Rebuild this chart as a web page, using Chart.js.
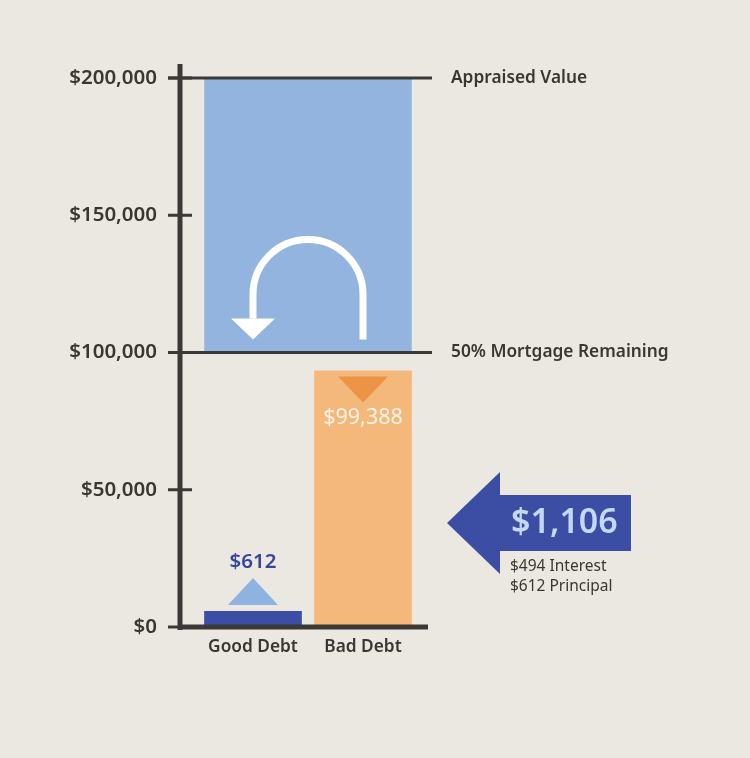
<!DOCTYPE html>
<html>
<head>
<meta charset="utf-8">
<script src="https://cdn.jsdelivr.net/npm/chart.js@4"></script>
<style>
  html, body { margin: 0; padding: 0; background: #ebe8e1; }
  #wrap { width: 750px; height: 758px; }
</style>
</head>
<body>
<div id="wrap"><canvas id="c" width="750" height="758"></canvas></div>
<script>
// ---- data ----
const categories = ['Good Debt', 'Bad Debt'];
const debtBarValues = [5800, 93400];          // bar heights as drawn
const debtValueLabels = ['$612', '$99,388'];
const appraisedRange = [100000, 200000];      // blue block: 50% remaining .. appraised value
const yTicks = [0, 50000, 100000, 150000, 200000];
const refLines = [
  { value: 200000, label: 'Appraised Value' },
  { value: 100000, label: '50% Mortgage Remaining' }
];
const paymentTotal = '$1,106';
const paymentParts = ['$494 Interest', '$612 Principal'];

const FONT = '"Noto Sans", sans-serif';
const DARK = '#3b3835';

const decor = {
  id: 'decor',
  afterDatasetsDraw(chart) {
    const ctx = chart.ctx;
    const y = chart.scales.y;
    const ca = chart.chartArea;
    const axisX = ca.left - 18;
    const y0 = y.getPixelForValue(0);
    const debtMeta = chart.getDatasetMeta(1);
    const good = debtMeta.data[0], bad = debtMeta.data[1];
    ctx.save();

    // reference lines
    ctx.strokeStyle = DARK;
    ctx.lineWidth = 3;
    refLines.forEach(r => {
      const py = y.getPixelForValue(r.value);
      ctx.beginPath(); ctx.moveTo(axisX - 12, py); ctx.lineTo(ca.right + 14, py); ctx.stroke();
      ctx.fillStyle = '#3a3733';
      ctx.font = '600 17.3px ' + FONT;
      ctx.textAlign = 'left'; ctx.textBaseline = 'middle';
      ctx.fillText(r.label, ca.right + 33, py);
    });
    // tick marks
    yTicks.forEach(v => {
      const py = y.getPixelForValue(v);
      ctx.beginPath(); ctx.moveTo(axisX - 12, py); ctx.lineTo(axisX + 12, py); ctx.stroke();
    });
    // vertical axis
    ctx.lineWidth = 5;
    ctx.beginPath(); ctx.moveTo(axisX, y.getPixelForValue(200000) - 14); ctx.lineTo(axisX, y0 + 3); ctx.stroke();
    // bottom axis
    ctx.beginPath(); ctx.moveTo(axisX, y0); ctx.lineTo(ca.right + 10, y0); ctx.stroke();

    // U-turn arrow inside blue block
    const blue = chart.getDatasetMeta(0).data[0];
    const cx = blue.x;
    const yb = y.getPixelForValue(100000);
    const r = 55;
    const cy = yb - 58;
    ctx.strokeStyle = '#ffffff';
    ctx.lineWidth = 7;
    ctx.lineCap = 'butt';
    ctx.beginPath();
    ctx.moveTo(cx + r, yb - 13);
    ctx.lineTo(cx + r, cy);
    ctx.arc(cx, cy, r, 0, Math.PI, true);
    ctx.lineTo(cx - r, yb - 34);
    ctx.stroke();
    ctx.fillStyle = '#ffffff';
    ctx.beginPath();
    ctx.moveTo(cx - r - 22, yb - 34);
    ctx.lineTo(cx - r + 22, yb - 34);
    ctx.lineTo(cx - r, yb - 13);
    ctx.closePath(); ctx.fill();

    // Bad debt down triangle + label
    ctx.fillStyle = '#ec9446';
    ctx.beginPath();
    ctx.moveTo(bad.x - 25, bad.y + 6);
    ctx.lineTo(bad.x + 25, bad.y + 6);
    ctx.lineTo(bad.x, bad.y + 32);
    ctx.closePath(); ctx.fill();
    ctx.fillStyle = '#fdf3e6';
    ctx.font = '400 21.5px ' + FONT;
    ctx.textAlign = 'center'; ctx.textBaseline = 'middle';
    ctx.fillText(debtValueLabels[1], bad.x, bad.y + 47);

    // Good debt up triangle + label
    ctx.fillStyle = '#8fb3e0';
    ctx.beginPath();
    ctx.moveTo(good.x - 25, good.y - 6);
    ctx.lineTo(good.x + 25, good.y - 6);
    ctx.lineTo(good.x, good.y - 33);
    ctx.closePath(); ctx.fill();
    ctx.fillStyle = '#34479b';
    ctx.font = '600 20.5px ' + FONT;
    ctx.fillText(debtValueLabels[0], good.x, good.y - 49);

    // Big payment arrow
    const ay = y.getPixelForValue(37900);
    const tipX = ca.right + 29;
    ctx.fillStyle = '#3c4ea3';
    ctx.beginPath();
    ctx.moveTo(tipX, ay);
    ctx.lineTo(tipX + 53, ay - 51);
    ctx.lineTo(tipX + 53, ay - 28);
    ctx.lineTo(tipX + 184, ay - 28);
    ctx.lineTo(tipX + 184, ay + 28);
    ctx.lineTo(tipX + 53, ay + 28);
    ctx.lineTo(tipX + 53, ay + 51);
    ctx.closePath(); ctx.fill();
    ctx.fillStyle = '#c5d8f3';
    ctx.font = '600 34px ' + FONT;
    ctx.textAlign = 'left'; ctx.textBaseline = 'middle';
    ctx.fillText(paymentTotal, tipX + 64, ay);
    ctx.fillStyle = '#3a3733';
    ctx.font = '400 15.5px ' + FONT;
    ctx.fillText(paymentParts[0], tipX + 63, ay + 44);
    ctx.fillText(paymentParts[1], tipX + 63, ay + 64);

    ctx.restore();
  }
};

new Chart(document.getElementById('c'), {
  type: 'bar',
  data: {
    labels: categories,
    datasets: [
      {
        label: 'Appraised',
        data: [appraisedRange],
        xAxisID: 'x2',
        grouped: false,
        backgroundColor: '#93b4df',
        barPercentage: 0.943,
        categoryPercentage: 1,
        borderWidth: 0
      },
      {
        label: 'Debt',
        data: debtBarValues,
        xAxisID: 'x',
        grouped: false,
        backgroundColor: ['#3b4ea6', '#f5b87b'],
        barPercentage: 0.888,
        categoryPercentage: 1,
        borderWidth: 0
      }
    ]
  },
  options: {
    responsive: false,
    animation: false,
    events: [],
    layout: { padding: { top: 78, right: 332, left: 0, bottom: 0 } },
    plugins: { legend: { display: false }, tooltip: { enabled: false } },
    scales: {
      x: {
        type: 'category',
        offset: true,
        grid: { display: false },
        border: { display: false },
        ticks: { color: '#3a3733', font: { family: FONT, size: 17.3, weight: '600' }, padding: 2 },
        afterFit(s) { s.height = 131; }
      },
      x2: {
        type: 'category',
        labels: ['Home'],
        offset: true,
        display: false
      },
      y: {
        min: 0, max: 200000,
        afterBuildTicks(s) { s.ticks = yTicks.map(v => ({ value: v })); },
        grid: { display: false },
        border: { display: false },
        ticks: {
          color: '#3a3733',
          font: { family: FONT, size: 20.5, weight: '600' },
          padding: 33,
          callback: v => '$' + v.toLocaleString('en-US')
        },
        afterFit(s) { s.width = 198; }
      }
    }
  },
  plugins: [decor]
});
</script>
</body>
</html>
